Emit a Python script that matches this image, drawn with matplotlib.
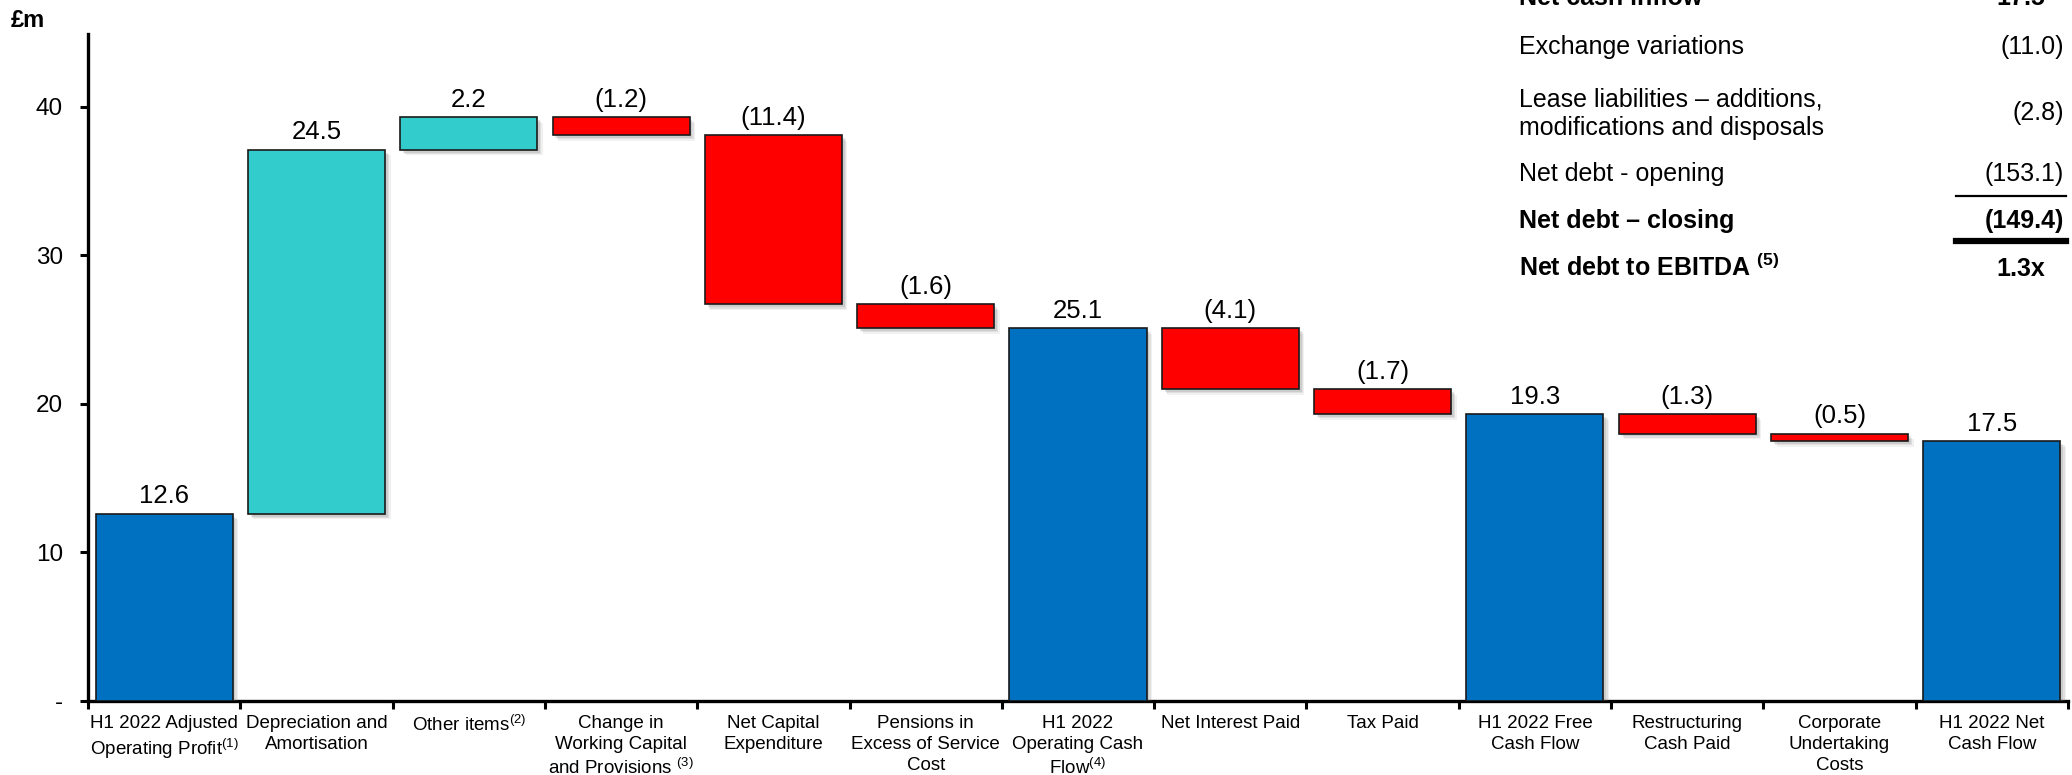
import matplotlib
matplotlib.use("Agg")
import matplotlib.pyplot as plt
import matplotlib.patheffects as pe
import numpy as np

plt.rcParams['font.family'] = ['Liberation Sans', 'DejaVu Sans']
plt.rcParams['mathtext.fontset'] = 'custom'
plt.rcParams['mathtext.rm'] = 'Liberation Sans'
plt.rcParams['mathtext.it'] = 'Liberation Sans:italic'
plt.rcParams['mathtext.bf'] = 'Liberation Sans:bold'

# ---- waterfall data (£m) ----
categories = [
    "H1 2022 Adjusted\nOperating Profit$^{\\mathrm{(1)}}$",
    "Depreciation and\nAmortisation",
    "Other items$^{\\mathrm{(2)}}$",
    "Change in\nWorking Capital\nand Provisions $^{\\mathrm{(3)}}$",
    "Net Capital\nExpenditure",
    "Pensions in\nExcess of Service\nCost",
    "H1 2022\nOperating Cash\nFlow$^{\\mathrm{(4)}}$",
    "Net Interest Paid",
    "Tax Paid",
    "H1 2022 Free\nCash Flow",
    "Restructuring\nCash Paid",
    "Corporate\nUndertaking\nCosts",
    "H1 2022 Net\nCash Flow",
]
values = [12.6, 24.5, 2.2, -1.2, -11.4, -1.6, 25.1, -4.1, -1.7, 19.3, -1.3, -0.5, 17.5]
kinds = ["total", "up", "up", "down", "down", "down", "total",
         "down", "down", "total", "down", "down", "total"]

# ---- net debt summary table ----
table_labels = [
    ["Net cash inflow"],
    ["Exchange variations"],
    ["Lease liabilities \u2013 additions,", "modifications and disposals"],
    ["Net debt - opening"],
    ["Net debt \u2013 closing"],
    ["Net debt to EBITDA $^{\\mathbf{(5)}}$"],
]
table_values = ["17.5", "(11.0)", "(2.8)", "(153.1)", "(149.4)", "1.3x"]
table_bold = [True, False, False, False, True, True]

colors = {"total": "#0070C0", "up": "#33CCCC", "down": "#FF0000"}

W, H = 2072, 775
fig = plt.figure(figsize=(W / 100, H / 100), dpi=100)
ax = fig.add_axes([88 / W, 1 - 701 / H, (2068 - 88) / W, (701 - 34) / H])

x = np.arange(len(values))
bottoms, heights, tops = [], [], []
running = 0.0
for v, k in zip(values, kinds):
    if k == "total":
        b, h = 0.0, v
        running = v
    elif k == "up":
        b, h = running, v
        running += v
    else:
        b, h = running + v, -v
        running += v
    bottoms.append(b)
    heights.append(h)
    tops.append(b + h)

bars = ax.bar(x, heights, bottom=bottoms, width=0.9,
              color=[colors[k] for k in kinds], edgecolor="#1a1a1a",
              linewidth=1.2, zorder=3)
# soft drop shadow built from a few stacked offsets
shadow = [pe.SimplePatchShadow(offset=(o, -o), shadow_rgbFace="#777777", alpha=a)
          for o, a in [(4.0, 0.10), (3.0, 0.14), (2.0, 0.18)]]
for b in bars:
    b.set_path_effects(shadow + [pe.Normal()])

for xi, v, k, t in zip(x, values, kinds, tops):
    txt = f"{v:.1f}" if k != "down" else f"({abs(v):.1f})"
    ax.annotate(txt, (xi, t), xytext=(0, 7.5), textcoords="offset points",
                ha="center", va="baseline", fontsize=18.5, zorder=4)

ax.set_xlim(-0.5, len(values) - 0.5)
ax.set_ylim(0, 44.9)

for s in ["top", "right"]:
    ax.spines[s].set_visible(False)
ax.spines["left"].set_linewidth(2.4)
ax.spines["bottom"].set_linewidth(2.4)

ax.set_yticks([0, 10, 20, 30, 40])
ax.set_yticklabels(["-", "10", "20", "30", "40"])
ax.tick_params(axis="y", direction="out", length=6, width=2.2, labelsize=17.5, pad=12)

ax.set_xticks(np.arange(len(values) + 1) - 0.5)
ax.set_xticklabels([])
ax.tick_params(axis="x", which="major", direction="out", length=6, width=2.2)
ax.set_xticks(x, categories, minor=True)
ax.tick_params(axis="x", which="minor", length=0, labelsize=13.5, pad=10)
for lbl in ax.get_xticklabels(minor=True):
    lbl.set_linespacing(1.3)

fig.text(11 / W, 1 - 27 / H, "£m", fontsize=17, fontweight="bold", va="baseline", ha="left")

# summary table, rows placed by text baseline (pixels from the top)
row_base = [[5], [54], [107, 135], [181], [228], [276]]
value_base = [5, 54, 120, 181, 228, 276]
lab_x = 1519 / W
for labs, val, bold, bases, vb in zip(table_labels, table_values, table_bold, row_base, value_base):
    fw = "bold" if bold else "normal"
    for lab, yb in zip(labs, bases):
        fig.text(lab_x, 1 - yb / H, lab, fontsize=18, fontweight=fw, ha="left", va="baseline")
    vx = 2045 if val in ("17.5", "1.3x") else 2064
    fig.text(vx / W, 1 - vb / H, val, fontsize=18, fontweight=fw, ha="right", va="baseline")

fig.add_artist(plt.Line2D([1956 / W, 2066 / W], [1 - 196 / H, 1 - 196 / H], color="black", linewidth=1.6))
fig.add_artist(plt.Line2D([1956 / W, 2066 / W], [1 - 241 / H, 1 - 241 / H], color="black", linewidth=4.5))

fig.savefig("out.png", dpi=100)
